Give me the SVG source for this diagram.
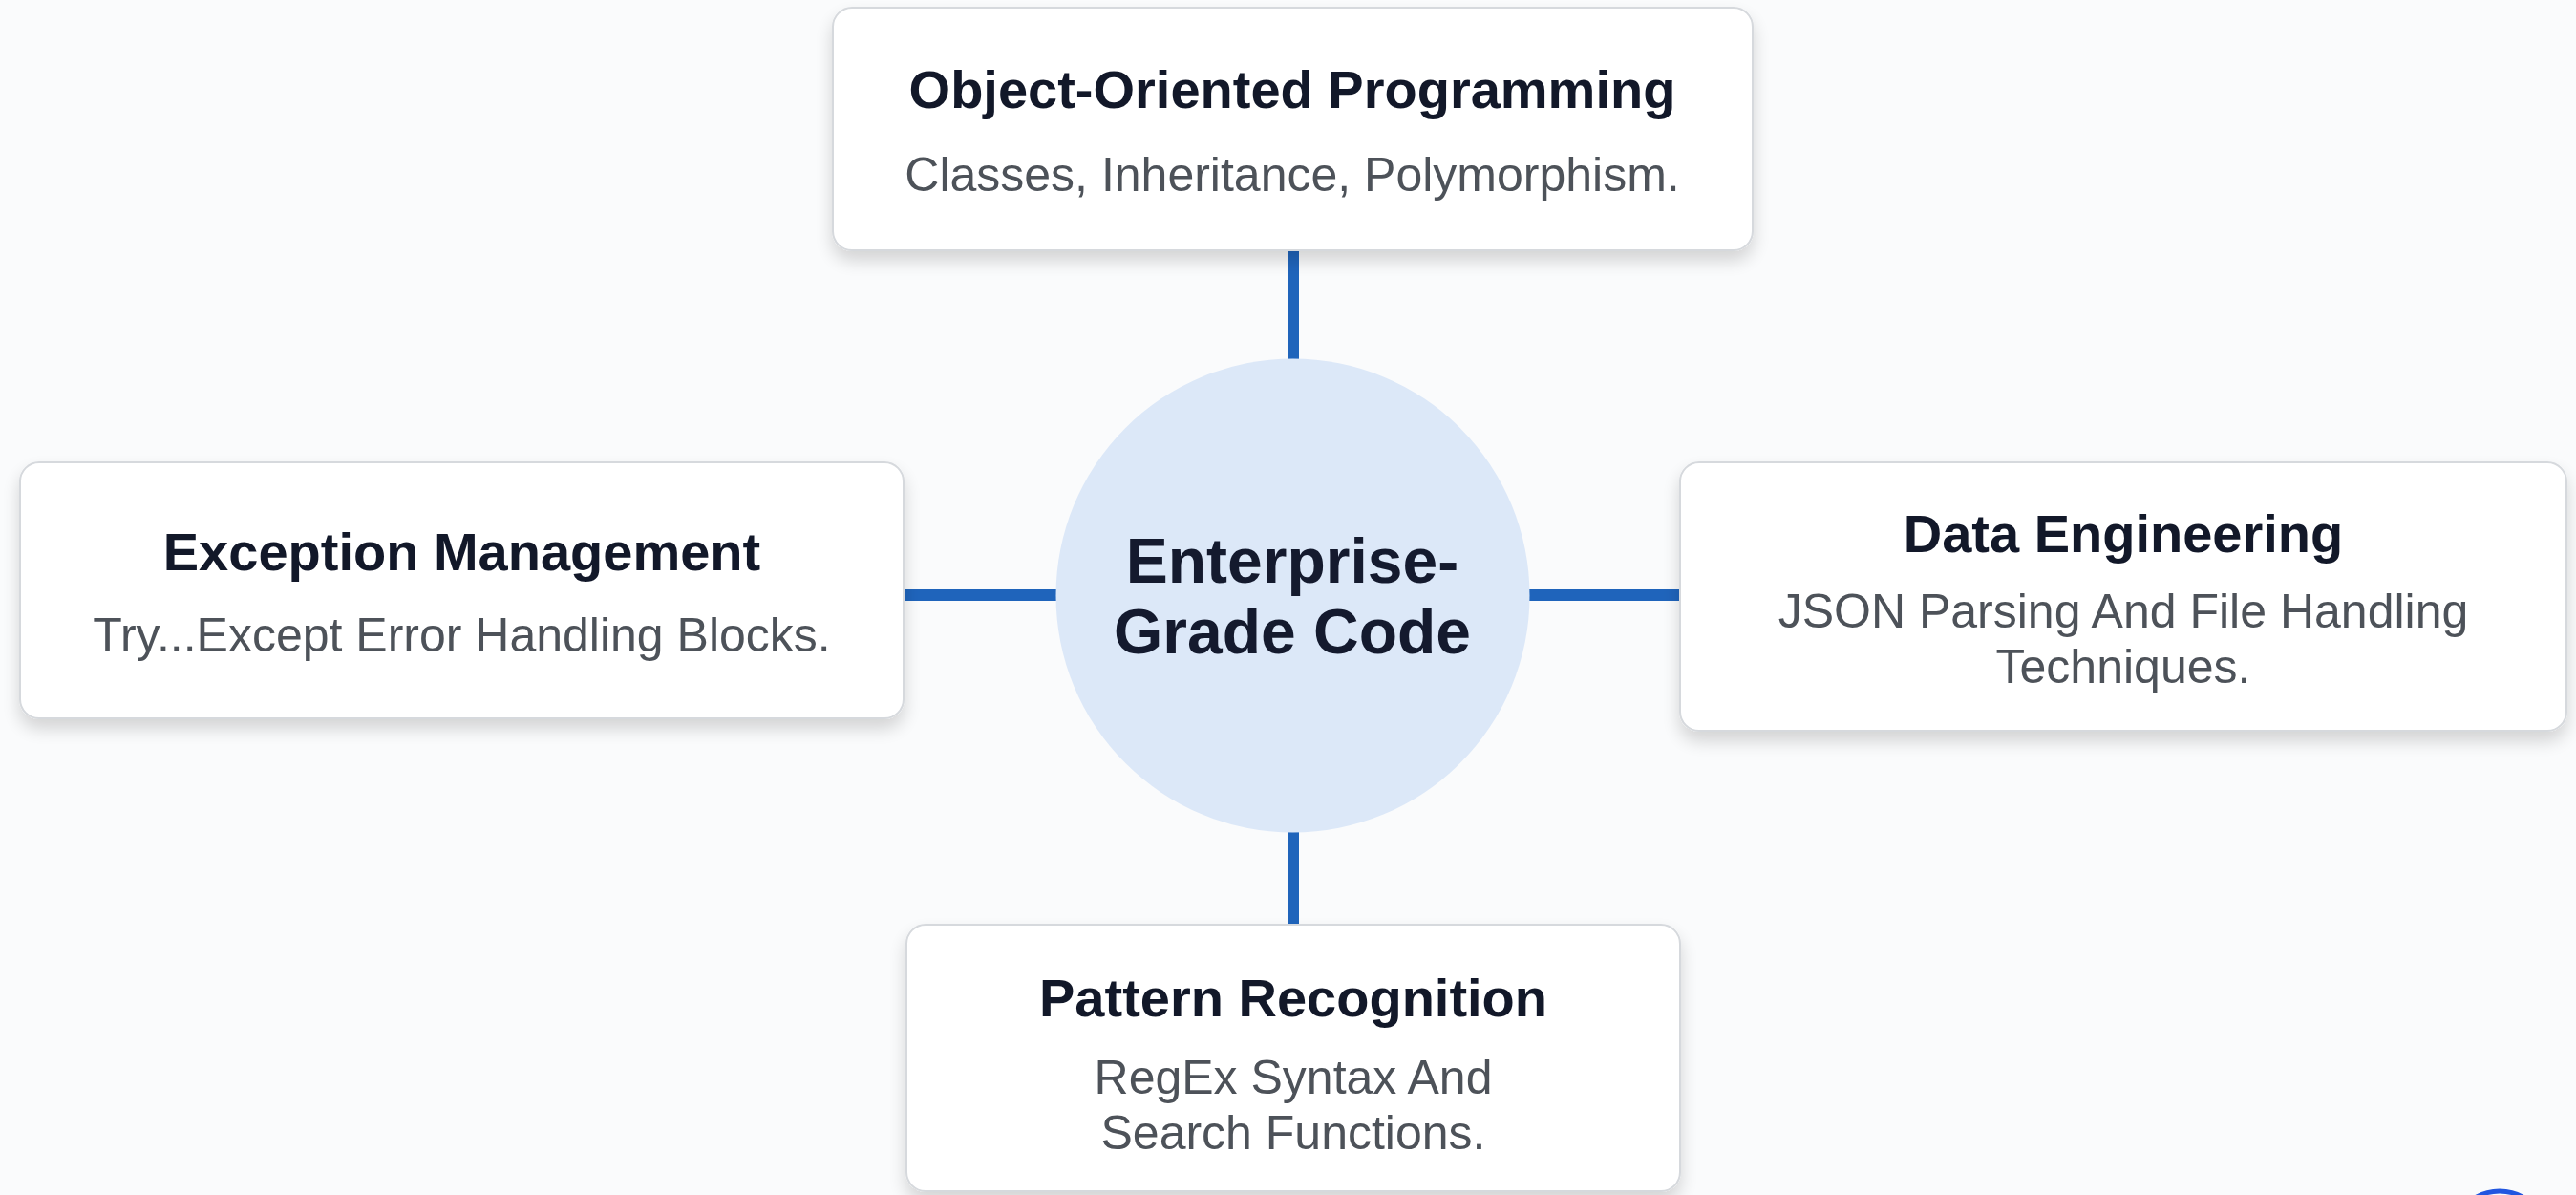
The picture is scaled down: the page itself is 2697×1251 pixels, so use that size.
<svg xmlns="http://www.w3.org/2000/svg" width="2697" height="1251" viewBox="0 0 2697 1251">
<defs>
<filter id="shadow" x="-10%" y="-20%" width="120%" height="150%">
<feGaussianBlur in="SourceAlpha" stdDeviation="9"/>
<feOffset dx="0" dy="10" result="b"/>
<feComponentTransfer><feFuncA type="linear" slope="0.16"/></feComponentTransfer>
<feMerge><feMergeNode/><feMergeNode in="SourceGraphic"/></feMerge>
</filter>
</defs>
<style>
.box{fill:#ffffff;stroke:#d6d9dd;stroke-width:2;filter:url(#shadow)}
.title{font-family:"Liberation Sans",Arial,sans-serif;font-weight:700;font-size:56px;fill:#121829;text-anchor:middle}
.sub{font-family:"Liberation Sans",Arial,sans-serif;font-size:50px;fill:#4d5259;text-anchor:middle}
.center{font-family:"Liberation Sans",Arial,sans-serif;font-weight:700;font-size:66px;fill:#141a2e;text-anchor:middle}
.conn{stroke:#1f64bb;stroke-width:12;fill:none}
</style>
<rect x="0" y="0" width="2697" height="1251" fill="#fafbfc"/>
<g id="connectors">
<line class="conn" x1="1354" y1="262" x2="1354" y2="378"/>
<line class="conn" x1="946" y1="623" x2="1108" y2="623"/>
<line class="conn" x1="1598" y1="623" x2="1759" y2="623"/>
<line class="conn" x1="1354" y1="868" x2="1354" y2="968"/>
</g>
<g id="center-node">
<circle cx="1353.5" cy="623.5" r="248" fill="#dce8f8"/>
<text class="center" x="1353" y="610">Enterprise-</text>
<text class="center" x="1353" y="684">Grade Code</text>
</g>
<g id="node-oop">
<rect class="box" x="872" y="8" width="963" height="254" rx="20"/>
<text class="title" x="1353" y="113">Object-Oriented Programming</text>
<text class="sub" x="1353" y="200">Classes, Inheritance, Polymorphism.</text>
</g>
<g id="node-exception">
<rect class="box" x="21" y="484" width="925" height="268" rx="20"/>
<text class="title" x="483.5" y="597">Exception Management</text>
<text class="sub" x="483.5" y="682">Try...Except Error Handling Blocks.</text>
</g>
<g id="node-data">
<rect class="box" x="1759" y="484" width="928" height="281" rx="20"/>
<text class="title" x="2223" y="578">Data Engineering</text>
<text class="sub" x="2223" y="657">JSON Parsing And File Handling</text>
<text class="sub" x="2223" y="715">Techniques.</text>
</g>
<g id="node-pattern">
<rect class="box" x="949" y="968" width="810" height="279" rx="20"/>
<text class="title" x="1354" y="1064">Pattern Recognition</text>
<text class="sub" x="1354" y="1145">RegEx Syntax And</text>
<text class="sub" x="1354" y="1203">Search Functions.</text>
</g>
<g id="corner-mark">
<circle cx="2617" cy="1297" r="50" fill="none" stroke="#2156e0" stroke-width="5"/>
</g>
</svg>
